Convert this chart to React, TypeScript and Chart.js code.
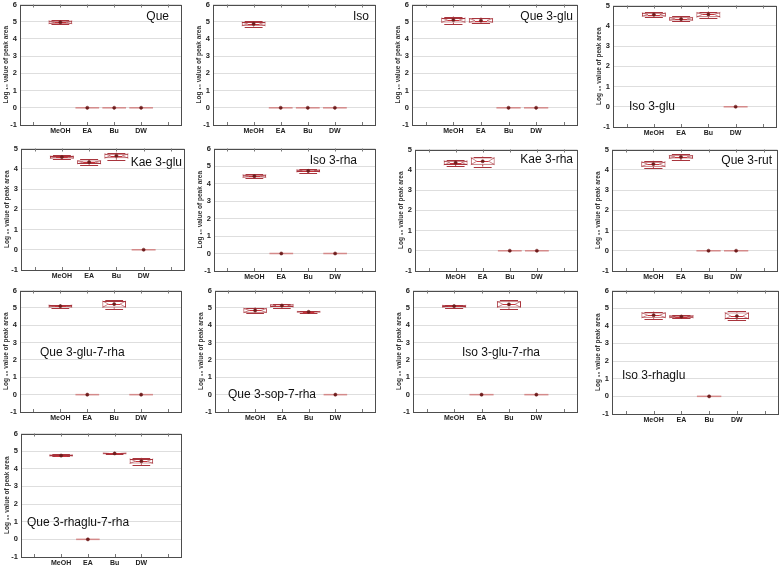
import React, { useEffect, useRef } from 'react';
import { Chart, registerables } from 'chart.js';
Chart.register(...registerables);

Chart.defaults.font.family = '"Liberation Sans", Arial, sans-serif';

// ---------------- DATA ----------------
const categories = ['MeOH', 'EA', 'Bu', 'DW'];
const xSlots = ['', ...categories, ''];
const yAxisTitle = 'Log \u2081\u2080 value of peak area';

// each row: [min, q1, median, q3, max] for MeOH, EA, Bu, DW
const que = [[4.84, 4.88, 4.97, 5.05, 5.09], [0, 0, 0, 0, 0], [0, 0, 0, 0, 0], [0, 0, 0, 0, 0]];
const iso = [[4.72, 4.76, 4.87, 4.98, 5.02], [0, 0, 0, 0, 0], [0, 0, 0, 0, 0], [0, 0, 0, 0, 0]];
const que3glu = [[4.85, 4.95, 5.1, 5.22, 5.3], [4.9, 4.95, 5.07, 5.2, 5.24], [0, 0, 0, 0, 0], [0, 0, 0, 0, 0]];
const iso3glu = [[4.42, 4.46, 4.55, 4.64, 4.68], [4.22, 4.26, 4.33, 4.42, 4.46], [4.38, 4.42, 4.56, 4.66, 4.7], [0, 0, 0, 0, 0]];
const kae3glu = [[4.48, 4.51, 4.58, 4.63, 4.66], [4.2, 4.24, 4.33, 4.41, 4.46], [4.45, 4.52, 4.64, 4.74, 4.79], [0, 0, 0, 0, 0]];
const iso3rha = [[4.3, 4.34, 4.42, 4.5, 4.54], [0, 0, 0, 0, 0], [4.62, 4.66, 4.72, 4.79, 4.82], [0, 0, 0, 0, 0]];
const kae3rha = [[4.19, 4.24, 4.35, 4.44, 4.48], [4.16, 4.25, 4.42, 4.6, 4.65], [0, 0, 0, 0, 0], [0, 0, 0, 0, 0]];
const que3rut = [[4.08, 4.15, 4.28, 4.4, 4.44], [4.48, 4.55, 4.63, 4.71, 4.76], [0, 0, 0, 0, 0], [0, 0, 0, 0, 0]];
const que3glu7rha = [[5.0, 5.03, 5.1, 5.16, 5.19], [0, 0, 0, 0, 0], [4.95, 5.02, 5.22, 5.4, 5.45], [0, 0, 0, 0, 0]];
const que3sop7rha = [[4.68, 4.72, 4.85, 4.98, 5.02], [5.02, 5.05, 5.13, 5.2, 5.23], [4.72, 4.74, 4.77, 4.8, 4.82], [0, 0, 0, 0, 0]];
const iso3glu7rha = [[5.0, 5.03, 5.1, 5.15, 5.18], [0, 0, 0, 0, 0], [4.95, 5.02, 5.2, 5.38, 5.45], [0, 0, 0, 0, 0]];
const iso3rhaglu = [[4.4, 4.45, 4.6, 4.75, 4.8], [4.42, 4.45, 4.52, 4.58, 4.62], [0, 0, 0, 0, 0], [4.33, 4.38, 4.55, 4.75, 4.82]];
const que3rhaglu7rha = [[4.7, 4.72, 4.75, 4.79, 4.81], [0, 0, 0, 0, 0], [4.83, 4.85, 4.87, 4.9, 4.92], [4.23, 4.3, 4.43, 4.56, 4.62]];

// ---------------- LAYOUT ----------------
const AXW = 20; // y-axis box width
const PADT = 6;
const PADR = 4;
const XH = 15;

type PanelCfg = {
  title: string;
  stats: number[][];
  ymax: number;
  plot: [number, number, number, number];
  label: [number, number, CanvasTextAlign];
};

const panels: PanelCfg[] = [
  { title: 'Que', stats: que, ymax: 6, plot: [20, 3, 182, 125], label: [169, 17, 'right'] },
  { title: 'Iso', stats: iso, ymax: 6, plot: [213, 3, 376, 125], label: [369, 17, 'right'] },
  { title: 'Que 3-glu', stats: que3glu, ymax: 6, plot: [412, 3, 578, 125], label: [573, 17, 'right'] },
  { title: 'Iso 3-glu', stats: iso3glu, ymax: 5, plot: [613, 4, 777, 127], label: [629, 107, 'left'] },
  { title: 'Kae 3-glu', stats: kae3glu, ymax: 5, plot: [21, 147, 185, 270], label: [182, 163, 'right'] },
  { title: 'Iso 3-rha', stats: iso3rha, ymax: 6, plot: [214, 147, 376, 271], label: [357, 161, 'right'] },
  { title: 'Kae 3-rha', stats: kae3rha, ymax: 5, plot: [415, 148, 578, 271], label: [573, 160, 'right'] },
  { title: 'Que 3-rut', stats: que3rut, ymax: 5, plot: [612, 148, 778, 271], label: [772, 161, 'right'] },
  { title: 'Que 3-glu-7-rha', stats: que3glu7rha, ymax: 6, plot: [20, 289, 182, 412], label: [40, 353, 'left'] },
  { title: 'Que 3-sop-7-rha', stats: que3sop7rha, ymax: 6, plot: [215, 289, 376, 412], label: [228, 395, 'left'] },
  { title: 'Iso 3-glu-7-rha', stats: iso3glu7rha, ymax: 6, plot: [413, 289, 578, 412], label: [462, 353, 'left'] },
  { title: 'Iso 3-rhaglu', stats: iso3rhaglu, ymax: 6, plot: [612, 289, 779, 414], label: [622, 376, 'left'] },
  { title: 'Que 3-rhaglu-7-rha', stats: que3rhaglu7rha, ymax: 6, plot: [21, 432, 182, 557], label: [27, 523, 'left'] },
];

const BOX = '#a8343c';
const MED = '#c8323a';
const FLAT = '#d48a8a';
const DOT = '#6e1c1c';

const boxDecor = {
  id: 'boxDecor',
  afterDatasetDraw(chart: any, args: any, opts: any) {
    if (args.index !== 0) return;
    const stats: number[][] = opts.stats;
    const ctx = chart.ctx;
    const xs = chart.scales.x;
    const ys = chart.scales.y;
    const meta = chart.getDatasetMeta(0);
    ctx.save();
    stats.forEach((s, k) => {
      const i = k + 1;
      const x = xs.getPixelForValue(i);
      const el = meta.data[i];
      const hw = (el && el.width ? el.width : 24) / 2;
      const yMin = ys.getPixelForValue(s[0]);
      const yQ1 = ys.getPixelForValue(s[1]);
      const yMed = ys.getPixelForValue(s[2]);
      const yQ3 = ys.getPixelForValue(s[3]);
      const yMax = ys.getPixelForValue(s[4]);
      if (Math.abs(s[4] - s[0]) < 1e-6) {
        ctx.strokeStyle = FLAT;
        ctx.lineWidth = 1.5;
        ctx.beginPath();
        ctx.moveTo(x - hw, yMed);
        ctx.lineTo(x + hw, yMed);
        ctx.stroke();
        return;
      }
      ctx.lineWidth = 1;
      ctx.strokeStyle = BOX;
      // whiskers
      ctx.beginPath();
      ctx.moveTo(x, yMin); ctx.lineTo(x, yQ1);
      ctx.moveTo(x, yQ3); ctx.lineTo(x, yMax);
      const cw = hw * 0.75;
      ctx.moveTo(x - cw, Math.round(yMin) + 0.5); ctx.lineTo(x + cw, Math.round(yMin) + 0.5);
      ctx.moveTo(x - cw, Math.round(yMax) + 0.5); ctx.lineTo(x + cw, Math.round(yMax) + 0.5);
      ctx.stroke();
      // notch lines
      ctx.strokeStyle = 'rgba(168,52,60,0.6)';
      ctx.beginPath();
      ctx.moveTo(x - hw, yQ3); ctx.lineTo(x - hw * 0.5, yMed); ctx.lineTo(x - hw, yQ1);
      ctx.moveTo(x + hw, yQ3); ctx.lineTo(x + hw * 0.5, yMed); ctx.lineTo(x + hw, yQ1);
      ctx.stroke();
      // median
      ctx.strokeStyle = MED;
      ctx.beginPath();
      ctx.moveTo(x - hw * 0.5, Math.round(yMed) + 0.5);
      ctx.lineTo(x + hw * 0.5, Math.round(yMed) + 0.5);
      ctx.stroke();
    });
    ctx.restore();
  },
  afterDraw(chart: any, _args: any, opts: any) {
    const ctx = chart.ctx;
    const a = chart.chartArea;
    const xs = chart.scales.x;
    ctx.save();
    ctx.strokeStyle = '#4d4d4d';
    ctx.lineWidth = 1;
    ctx.strokeRect(Math.round(a.left) + 0.5, Math.round(a.top) + 0.5, Math.round(a.right - a.left) - 1, Math.round(a.bottom - a.top) - 1);
    ctx.strokeStyle = '#777';
    ctx.beginPath();
    for (let i = 0; i < xSlots.length; i++) {
      const x = Math.round(xs.getPixelForValue(i)) + 0.5;
      ctx.moveTo(x, a.top); ctx.lineTo(x, a.top + 3);
      ctx.moveTo(x, a.bottom); ctx.lineTo(x, a.bottom - 3);
    }
    ctx.stroke();
    // panel title
    const [lx, ly, align] = opts.label;
    ctx.fillStyle = '#111';
    ctx.font = '12px "Liberation Sans", Arial, sans-serif';
    ctx.textAlign = align;
    ctx.textBaseline = 'middle';
    ctx.fillText(opts.title, lx - opts.cl, ly - opts.ct);
    ctx.restore();
  },
};

function Panel({ cfg }: { cfg: PanelCfg }) {
  const ref = useRef<HTMLCanvasElement>(null);
  const [l, t, r, b] = cfg.plot;
  const cl = l - AXW;
  const ct = t - PADT;
  const w = r - l + AXW + PADR;
  const h = b - t + PADT + XH;
  useEffect(() => {
    const chart = new Chart(ref.current as HTMLCanvasElement, {
      type: 'bar',
      data: {
        labels: xSlots,
        datasets: [
          {
            type: 'bar',
            data: [null, ...cfg.stats.map((s) => [s[1], s[3]]), null] as any,
            backgroundColor: '#ffffff',
            borderColor: BOX,
            borderWidth: 1,
            borderSkipped: false,
            barPercentage: 0.88,
            categoryPercentage: 1,
            order: 2,
          } as any,
          {
            type: 'line',
            data: [null, ...cfg.stats.map((s) => s[2]), null] as any,
            showLine: false,
            pointRadius: 1.6,
            pointBackgroundColor: DOT,
            pointBorderColor: DOT,
            pointBorderWidth: 0.5,
            order: 0,
          } as any,
        ],
      },
      options: {
        animation: false,
        responsive: false,
        maintainAspectRatio: false,
        events: [],
        layout: { padding: { top: PADT, right: PADR, left: 0, bottom: 0 } },
        plugins: {
          legend: { display: false },
          tooltip: { enabled: false },
          boxDecor: { stats: cfg.stats, title: cfg.title, label: cfg.label, cl, ct },
        } as any,
        scales: {
          x: {
            type: 'category',
            offset: true,
            grid: { display: false, drawTicks: false },
            border: { display: false },
            ticks: { font: { size: 7, weight: 'bold' }, color: '#222', padding: 2, autoSkip: false, maxRotation: 0 },
            afterFit: (s: any) => { s.height = XH; },
          },
          y: {
            min: -1,
            max: cfg.ymax,
            grid: { color: '#dedede', drawTicks: false },
            border: { display: false },
            ticks: { stepSize: 1, font: { size: 7.5, weight: 'bold' }, color: '#222', padding: 3 },
            title: { display: true, text: yAxisTitle, font: { size: 6.5, weight: 'bold' }, color: '#333', padding: { top: 2, bottom: 0 } },
            afterFit: (s: any) => { s.width = AXW; },
          },
        },
      } as any,
      plugins: [boxDecor],
    });
    return () => chart.destroy();
  }, []);
  return (
    <canvas
      ref={ref}
      width={w}
      height={h}
      style={{ position: 'absolute', left: cl, top: ct, width: w, height: h }}
    />
  );
}

export default function App() {
  return (
    <div style={{ position: 'absolute', left: 0, top: 0, width: 781, height: 565, background: '#fff' }}>
      {panels.map((p) => (
        <Panel key={p.title} cfg={p} />
      ))}
    </div>
  );
}
